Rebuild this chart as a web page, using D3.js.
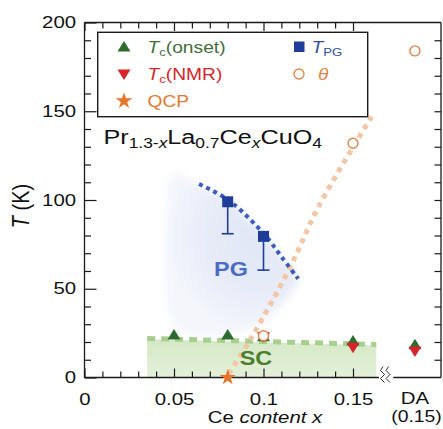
<!DOCTYPE html>
<html><head><meta charset="utf-8">
<script src="https://cdn.jsdelivr.net/npm/d3@7"></script>
<style>body{margin:0;background:#fff}svg{display:block}text{font-family:"Liberation Sans",Arial,Helvetica,sans-serif}</style>
</head><body><svg id="c" width="443" height="429"></svg>
<script>
// ---------- data ----------
const xMajorTicks = [0, 0.05, 0.1, 0.15];
const xTickLabels = ["0", "0.05", "0.1", "0.15"];
const xMinorTicks = [0.01,0.02,0.03,0.04,0.06,0.07,0.08,0.09,0.11,0.12,0.13,0.14];
const yMajorTicks = [0, 50, 100, 150, 200];
const yTickLabels = ["0", "50", "100", "150", "200"];
const yMinorTicks = [10,20,30,40,60,70,80,90,110,120,130,140,160,170,180,190];

const tcOnsetX = [0.05, 0.08, 0.1, 0.15];
const tcOnsetT = [24, 24, 23, 20.5];
const tcNmrX = [0.1, 0.15];
const tcNmrT = [23, 17];
const thetaX = [0.1, 0.15];
const thetaT = [23.5, 132];
const tpgX = [0.08, 0.1];
const tpgT = [99, 79.5];
const tpgLow = [81, 60.5];
const qcpX = [0.08];
const qcpT = [0];
const daPos = 0.1846;          // position of the "DA (0.15)" column
const daTcOnset = 18.5, daTcNmr = 15, daTheta = 184;

const pgLineX = [0.064, 0.081, 0.101, 0.1102, 0.1194];
const pgLineT = [109, 99.5, 80, 67.8, 55.6];
const thetaLineX = [0.0805, 0.0934, 0.1148, 0.1306, 0.1604];
const thetaLineT = [2, 22.7, 62, 96, 147];
const scLineX = [0.035, 0.163];
const scLineT = [22, 18.6];
const pgRegionX = [0.049, 0.064, 0.081, 0.101, 0.1102, 0.1194, 0.111, 0.096, 0.078, 0.062, 0.05, 0.045, 0.046];
const pgRegionT = [115, 109, 99.5, 80, 67.8, 55.6, 42, 29, 24, 24, 30, 55, 90];

// ---------- layout ----------
const svg = d3.select("#c");
const pL = 84.5, pR = 441, pT = 22.5, pB = 377.5;
const x = d3.scaleLinear().domain([0, 0.2]).range([84.5, 442.5]);
const y = d3.scaleLinear().domain([0, 200]).range([pB, pT]);
const SX = 1.2; // horizontal stretch of the lettering

const C = {
  green: "#2f6b2f", red: "#d7242a", orange: "#e8762a", theta: "#e0844a",
  sq: "#1f3d99", blueLine: "#3b5cb8", pgText: "#4a6cc4", scText: "#4d7d2e",
  scDash: "#a8cf8e", thLine: "#f3c6a5"
};

const defs = svg.append("defs");
const blur = defs.append("filter").attr("id", "blur").attr("x", "-30%").attr("y", "-30%").attr("width", "160%").attr("height", "160%");
blur.append("feGaussianBlur").attr("stdDeviation", 4);
const rg = defs.append("radialGradient").attr("id", "pgGrad").attr("gradientUnits", "userSpaceOnUse")
  .attr("cx", x(0.1)).attr("cy", y(80)).attr("r", 100);
rg.append("stop").attr("offset", "0%").attr("stop-color", "#e0e6f7");
rg.append("stop").attr("offset", "55%").attr("stop-color", "#e7ebf8");
rg.append("stop").attr("offset", "100%").attr("stop-color", "#f4f6fc");
const lg = defs.append("linearGradient").attr("id", "scGrad").attr("x1", 0).attr("y1", 0).attr("x2", 0).attr("y2", 1);
lg.append("stop").attr("offset", "0%").attr("stop-color", "#d5e9c6");
lg.append("stop").attr("offset", "100%").attr("stop-color", "#e4f0da");

// PG region
const pgPts = pgRegionX.map((v, i) => [x(v), y(pgRegionT[i])]);
svg.append("path").attr("d", d3.line().curve(d3.curveCatmullRomClosed)(pgPts))
  .attr("fill", "url(#pgGrad)").attr("filter", "url(#blur)");

// SC region
const scPts = scLineX.map((v, i) => ({x: v, t: scLineT[i]}));
svg.append("path").datum(scPts)
  .attr("d", d3.area().x(d => x(d.x)).y0(y(0)).y1(d => y(d.t - 0.5)))
  .attr("fill", "url(#scGrad)");
svg.append("path").datum(scPts)
  .attr("d", d3.line().x(d => x(d.x)).y(d => y(d.t)))
  .attr("fill", "none").attr("stroke", C.scDash).attr("stroke-width", 5).attr("stroke-dasharray", "8,6");

// theta dotted line
svg.append("path").datum(thetaLineX.map((v, i) => [x(v), y(thetaLineT[i])]))
  .attr("d", d3.line().curve(d3.curveCatmullRom))
  .attr("fill", "none").attr("stroke", C.thLine).attr("stroke-width", 5).attr("stroke-dasharray", "5,5");

// PG dotted line
svg.append("path").datum(pgLineX.map((v, i) => [x(v), y(pgLineT[i])]))
  .attr("d", d3.line().curve(d3.curveCatmullRom))
  .attr("fill", "none").attr("stroke", C.blueLine).attr("stroke-width", 4).attr("stroke-dasharray", "4,4");

// ---------- frame & axes ----------
const frame = svg.append("g").attr("stroke", "#1a1a1a").attr("stroke-width", 1.3).attr("fill", "none");
frame.append("line").attr("x1", pL).attr("x2", pL).attr("y1", pT).attr("y2", pB);
frame.append("line").attr("x1", pR).attr("x2", pR).attr("y1", pT).attr("y2", pB);
frame.append("line").attr("x1", pL).attr("x2", pR).attr("y1", pT).attr("y2", pT);
frame.append("line").attr("x1", pL).attr("x2", x(0.1645)).attr("y1", pB).attr("y2", pB);
frame.append("line").attr("x1", x(0.1725)).attr("x2", pR).attr("y1", pB).attr("y2", pB);
// axis break
[383, 388.5].forEach(bx => {
  frame.append("path").attr("d", `M${bx},${pB - 11} L${bx - 2.5},${pB - 7} L${bx + 1.5},${pB - 3} L${bx - 2.5},${pB + 1} L${bx + 1.5},${pB + 5}`)
    .attr("stroke-width", 0.9);
});

function styleAxis(g) {
  g.select(".domain").remove();
  g.selectAll("line").attr("stroke", "#1a1a1a").attr("stroke-width", 1.2);
  g.selectAll("text").attr("fill", "#111").attr("font-size", 17).attr("font-family", null);
}
svg.append("g").attr("transform", `translate(0,${pB})`)
  .call(d3.axisBottom(x).tickValues(xMinorTicks).tickSize(-6).tickFormat("")).call(styleAxis);
svg.append("g").attr("transform", `translate(0,${pB})`)
  .call(d3.axisBottom(x).tickValues(xMajorTicks).tickSize(-9).tickPadding(15).tickFormat((d, i) => xTickLabels[i]))
  .call(styleAxis).selectAll("text").attr("transform", `scale(${SX},1)`);
svg.append("g").attr("transform", `translate(0,${pT})`)
  .call(d3.axisTop(x).tickValues(xMinorTicks).tickSize(-6).tickFormat("")).call(styleAxis);
svg.append("g").attr("transform", `translate(0,${pT})`)
  .call(d3.axisTop(x).tickValues(xMajorTicks).tickSize(-8.5).tickFormat("")).call(styleAxis);
svg.append("g").attr("transform", `translate(${pL},0)`)
  .call(d3.axisLeft(y).tickValues(yMinorTicks).tickSize(-6.5).tickFormat("")).call(styleAxis);
svg.append("g").attr("transform", `translate(${pL},0)`)
  .call(d3.axisLeft(y).tickValues(yMajorTicks).tickSize(-12).tickPadding(7).tickFormat((d, i) => yTickLabels[i]))
  .call(styleAxis).selectAll("text").attr("transform", `scale(${SX},1)`).attr("dy", "0.3em");
svg.append("g").attr("transform", `translate(${pR},0)`)
  .call(d3.axisRight(y).tickValues(yMinorTicks.concat(yMajorTicks.slice(1, 4))).tickSize(-6.5).tickFormat("")).call(styleAxis);

// ---------- markers ----------
const upTri = "M0,-6 L6.5,4.5 L-6.5,4.5 Z";
const downTri = "M0,6 L6.5,-4.5 L-6.5,-4.5 Z";
const mk = svg.append("g");
// error bars
tpgX.forEach((v, i) => {
  mk.append("line").attr("x1", x(v)).attr("x2", x(v)).attr("y1", y(tpgT[i])).attr("y2", y(tpgLow[i]))
    .attr("stroke", C.sq).attr("stroke-width", 1.6);
  mk.append("line").attr("x1", x(v) - 6).attr("x2", x(v) + 6).attr("y1", y(tpgLow[i])).attr("y2", y(tpgLow[i]))
    .attr("stroke", C.sq).attr("stroke-width", 1.6);
});
mk.selectAll(".sq").data(tpgX).join("rect").attr("x", (d) => x(d) - 5.5).attr("y", (d, i) => y(tpgT[i]) - 5.5)
  .attr("width", 11).attr("height", 11).attr("fill", C.sq);
const onsetPts = tcOnsetX.map((v, i) => [x(v), y(tcOnsetT[i])]).concat([[x(daPos), y(daTcOnset)]]);
mk.selectAll(".up").data(onsetPts).join("path").attr("d", upTri)
  .attr("transform", d => `translate(${d[0]},${d[1]})`).attr("fill", C.green);
const nmrPts = tcNmrX.map((v, i) => [x(v), y(tcNmrT[i])]).concat([[x(daPos), y(daTcNmr)]]);
mk.selectAll(".dn").data(nmrPts).join("path").attr("d", downTri)
  .attr("transform", d => `translate(${d[0]},${d[1]})`).attr("fill", C.red);
const thPts = thetaX.map((v, i) => [x(v), y(thetaT[i])]).concat([[x(daPos), y(daTheta)]]);
mk.selectAll(".th").data(thPts).join("circle").attr("cx", d => d[0]).attr("cy", d => d[1]).attr("r", 5)
  .attr("fill", "#fff").attr("stroke", C.theta).attr("stroke-width", 1.4);
mk.selectAll(".st").data(qcpX).join("path").attr("d", d3.symbol(d3.symbolStar, 80)())
  .attr("transform", (d, i) => `translate(${x(d)},${y(qcpT[i])})`).attr("fill", C.orange);

// ---------- texts ----------
function rich(parent, px, py, segs, opts) {
  const t = parent.append("text").attr("transform", `translate(${px},${py}) scale(${opts.sx || SX},1)`)
    .attr("font-size", opts.size).attr("fill", opts.fill || "#111")
    .attr("text-anchor", opts.anchor || "start").attr("font-weight", opts.weight || "normal");
  let off = 0;
  segs.forEach(s => {
    const target = s.sub ? opts.subShift : 0;
    const ts = t.append("tspan").text(s.t).attr("dy", target - off);
    off = target;
    if (s.sub) ts.attr("font-size", opts.subSize);
    if (s.it) ts.attr("font-style", "italic");
  });
  return t;
}

// legend
const lgG = svg.append("g");
lgG.append("rect").attr("x", 97.7).attr("y", 32.3).attr("width", 270).attr("height", 84.4)
  .attr("fill", "#fff").attr("stroke", "#1a1a1a").attr("stroke-width", 1.4);
lgG.append("path").attr("d", upTri).attr("transform", "translate(124,47)").attr("fill", C.green);
lgG.append("path").attr("d", downTri).attr("transform", "translate(124,74)").attr("fill", C.red);
lgG.append("path").attr("d", d3.symbol(d3.symbolStar, 85)()).attr("transform", "translate(124,101)").attr("fill", C.orange);
lgG.append("rect").attr("x", 294).attr("y", 41.5).attr("width", 10.5).attr("height", 10.5).attr("fill", C.sq);
lgG.append("circle").attr("cx", 299).attr("cy", 74).attr("r", 5).attr("fill", "#fff").attr("stroke", C.theta).attr("stroke-width", 1.3);
const lo = {size: 16, subSize: 11, subShift: 3};
rich(lgG, 147.5, 52.5, [{t: "T", it: true}, {t: "c", sub: true}, {t: "(onset)"}], {...lo, fill: "#3f6e3a"});
rich(lgG, 147.5, 79.5, [{t: "T", it: true}, {t: "c", sub: true}, {t: "(NMR)"}], {...lo, fill: C.red});
rich(lgG, 147.5, 106.5, [{t: "QCP"}], {...lo, fill: "#e07a2e"});
rich(lgG, 311.5, 52.5, [{t: "T", it: true}, {t: "PG", sub: true}], {...lo, fill: "#2d4fa8"});
rich(lgG, 318, 79.5, [{t: "θ", it: true}], {...lo, fill: C.theta});

// compound formula
rich(svg, 103.5, 143.5, [{t: "Pr"}, {t: "1.3-", sub: true}, {t: "x", sub: true, it: true}, {t: "La"}, {t: "0.7", sub: true},
  {t: "Ce"}, {t: "x", sub: true, it: true}, {t: "CuO"}, {t: "4", sub: true}], {size: 21, subSize: 14.5, subShift: 4});

// region labels
rich(svg, 231, 275.5, [{t: "PG"}], {size: 19.5, weight: "bold", anchor: "middle", fill: C.pgText});
rich(svg, 256, 365, [{t: "SC"}], {size: 19.5, weight: "bold", anchor: "middle", fill: C.scText});

// DA label
rich(svg, x(daPos), 403.5, [{t: "DA"}], {size: 17, anchor: "middle"});
rich(svg, 416.5, 421.5, [{t: "(0.15)"}], {size: 17, anchor: "middle", sx: 1.14});

// axis titles
rich(svg, 265, 423.3, [{t: "Ce "}, {t: "content x", it: true}], {size: 17, anchor: "middle"});
svg.append("text").attr("transform", `translate(29,206) rotate(-90) scale(1,${SX})`)
  .attr("font-size", 20).attr("text-anchor", "middle").attr("fill", "#111")
  .call(t => { t.append("tspan").attr("font-style", "italic").text("T"); t.append("tspan").text(" (K)"); });
</script></body></html>
